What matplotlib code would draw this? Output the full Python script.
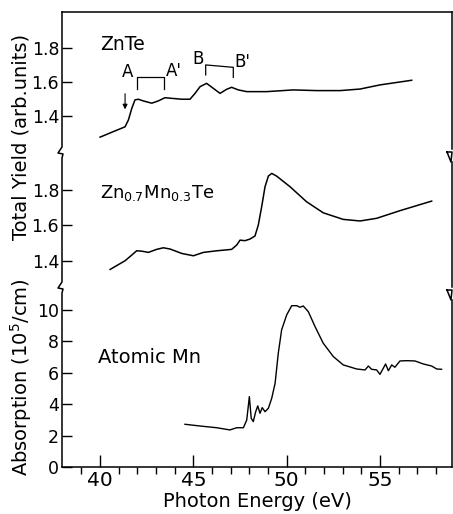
import matplotlib
matplotlib.use('Agg')
import matplotlib.pyplot as plt
from matplotlib.lines import Line2D

# ZnTe total yield
znte_e = [40.0, 40.71, 41.34, 41.52, 41.70, 41.87, 42.05, 42.32, 42.77, 43.12, 43.48, 43.84,
          44.38, 44.82, 45.09, 45.36, 45.71, 46.07, 46.43, 46.79, 47.05, 47.41, 47.86, 48.93,
          50.36, 51.61, 52.86, 53.93, 55.0, 56.7]
znte_y = [1.28, 1.312, 1.34, 1.38, 1.447, 1.496, 1.50, 1.49, 1.477, 1.49, 1.509, 1.505,
          1.50, 1.50, 1.534, 1.573, 1.592, 1.563, 1.534, 1.558, 1.569, 1.554, 1.544, 1.544,
          1.554, 1.55, 1.55, 1.559, 1.583, 1.61]

# Zn0.7Mn0.3Te total yield
znmn_e = [40.54, 41.34, 41.70, 41.96, 42.23, 42.59, 43.03, 43.39, 43.75, 44.38, 45.0, 45.54,
          46.25, 47.05, 47.32, 47.5, 47.77, 48.03, 48.3, 48.48, 48.66, 48.84, 49.02, 49.2,
          49.46, 50.18, 51.07, 51.96, 53.03, 53.93, 54.82, 56.07, 57.77]
znmn_y = [1.35, 1.399, 1.431, 1.455, 1.453, 1.446, 1.463, 1.472, 1.465, 1.44, 1.427, 1.446,
          1.455, 1.463, 1.487, 1.515, 1.512, 1.521, 1.538, 1.60, 1.703, 1.816, 1.876, 1.891,
          1.876, 1.816, 1.731, 1.669, 1.632, 1.623, 1.638, 1.681, 1.735]

# atomic Mn absorption (10^5/cm)
mn_e = [44.55, 45.36, 46.25, 46.96, 47.32, 47.68, 47.86, 48.0, 48.1, 48.21, 48.34, 48.45,
        48.57, 48.69, 48.84, 49.02, 49.2, 49.38, 49.55, 49.73, 50.0, 50.27, 50.54, 50.71,
        50.89, 51.16, 51.52, 51.96, 52.5, 53.03, 53.75, 54.2, 54.38, 54.55, 54.82, 55.0,
        55.18, 55.3, 55.45, 55.63, 55.8, 56.07, 56.43, 56.88, 57.32, 57.77, 58.04, 58.3]
mn_abs = [2.72, 2.61, 2.50, 2.36, 2.50, 2.50, 2.99, 4.48, 3.10, 2.89, 3.52, 3.89,
          3.42, 3.78, 3.52, 3.74, 4.38, 5.33, 7.24, 8.73, 9.68, 10.27, 10.27, 10.17,
          10.25, 9.89, 8.94, 7.88, 7.03, 6.50, 6.24, 6.18, 6.43, 6.22, 6.18, 5.90,
          6.29, 6.56, 6.13, 6.50, 6.35, 6.75, 6.77, 6.75, 6.56, 6.43, 6.24, 6.22]

yield_ticks = [1.4, 1.6, 1.8]
abs_ticks = [0, 2, 4, 6, 8, 10]
x_ticks = [40, 45, 50, 55]
x_minor = list(range(39, 59))

# bracket annotations for ZnTe (energy, value)
bracket_a = [(42.0, 1.558), (42.0, 1.631), (43.44, 1.631), (43.44, 1.558)]
bracket_b = [(45.66, 1.641), (45.66, 1.699), (47.14, 1.685), (47.14, 1.627)]

W, H = 453, 514
fig = plt.figure(figsize=(W / 100, H / 100), dpi=100)


def fx(px):
    return px / W


def fy(py):
    return 1 - py / H


L, R = 62, 452
ax_top = fig.add_axes([fx(L), fy(153), (R - L) / W, 141 / H])
ax_mid = fig.add_axes([fx(L), fy(287), (R - L) / W, 134 / H])
ax_bot = fig.add_axes([fx(L), fy(467), (R - L) / W, 180 / H])

for ax in (ax_top, ax_mid, ax_bot):
    ax.set_xlim(37.96, 58.86)
    ax.patch.set_visible(False)
    for s in ('left', 'right', 'top', 'bottom'):
        ax.spines[s].set_visible(False)
    ax.tick_params(axis='y', direction='in', length=7, width=1, labelsize=12.5, pad=2)
    ax.tick_params(axis='x', bottom=False, labelbottom=False)

ax_top.spines['top'].set_visible(True)
ax_top.spines['top'].set_linewidth(1.1)
ax_bot.spines['bottom'].set_visible(True)
ax_bot.spines['bottom'].set_linewidth(1.1)

# top panel
ax_top.plot(znte_e, znte_y, color='black', lw=1.1)
ax_top.set_ylim(1.188, 2.006)
ax_top.set_yticks(yield_ticks)
ax_top.set_yticklabels(['1.4', '1.6', '1.8'])
ax_top.text(40.0, 1.82, 'ZnTe', fontsize=13.5, va='center')
ax_top.text(41.45, 1.66, 'A', fontsize=12, ha='center', va='center')
ax_top.text(43.96, 1.664, "A'", fontsize=12, ha='center', va='center')
ax_top.text(45.25, 1.733, 'B', fontsize=12, ha='center', va='center')
ax_top.text(47.6, 1.716, "B'", fontsize=12, ha='center', va='center')
ax_top.plot([p[0] for p in bracket_a], [p[1] for p in bracket_a], color='black', lw=0.9)
ax_top.plot([p[0] for p in bracket_b], [p[1] for p in bracket_b], color='black', lw=0.9)
ax_top.annotate('', xy=(41.34, 1.425), xytext=(41.34, 1.548),
                arrowprops=dict(arrowstyle='-|>', lw=0.8, color='black', mutation_scale=7))

# middle panel
ax_mid.plot(znmn_e, znmn_y, color='black', lw=1.1)
ax_mid.set_ylim(1.251, 2.006)
ax_mid.set_yticks(yield_ticks)
ax_mid.set_yticklabels(['1.4', '1.6', '1.8'])
ax_mid.text(40.0, 1.78, r'Zn$_{\mathregular{0.7}}$Mn$_{\mathregular{0.3}}$Te',
            fontsize=13, va='center')

# bottom panel
ax_bot.plot(mn_e, mn_abs, color='black', lw=1.0)
ax_bot.set_ylim(0, 11.46)
ax_bot.set_yticks(abs_ticks)
ax_bot.text(39.9, 6.94, 'Atomic Mn', fontsize=14, va='center')
ax_bot.tick_params(axis='x', bottom=True, labelbottom=True, direction='in',
                   labelsize=14.5, pad=3)
ax_bot.tick_params(axis='x', which='major', length=8.5, width=1)
ax_bot.tick_params(axis='x', which='minor', length=5, width=1)
ax_bot.set_xticks(x_ticks)
ax_bot.set_xticks(x_minor, minor=True)
ax_bot.set_xlabel('Photon Energy (eV)', fontsize=14, labelpad=1)

# broken left / right frame lines (figure pixels)
left_frame = [(62, 12), (62, 147), (58, 153), (63, 154), (62, 158), (62, 282),
              (58, 288), (63, 289), (62, 293), (62, 467)]
right_frame = [[(452, 12), (452, 149)],
               [(447, 152), (452, 152), (451, 162), (447, 152)],
               [(452, 162), (452, 287)],
               [(447, 290), (452, 290), (451, 300), (447, 290)],
               [(452, 300), (452, 467)]]
fig.add_artist(Line2D([fx(p[0]) for p in left_frame], [fy(p[1]) for p in left_frame],
                      color='black', lw=1.1, transform=fig.transFigure))
for seg in right_frame:
    fig.add_artist(Line2D([fx(p[0]) for p in seg], [fy(p[1]) for p in seg],
                          color='black', lw=1.1, transform=fig.transFigure))

fig.text(fx(21), fy(137), 'Total Yield (arb.units)', rotation=90, fontsize=14,
         ha='center', va='center')
fig.text(fx(21), fy(377), r'Absorption (10$^{\mathregular{5}}$/cm)', rotation=90, fontsize=14,
         ha='center', va='center')

fig.savefig('out.png', dpi=100)
